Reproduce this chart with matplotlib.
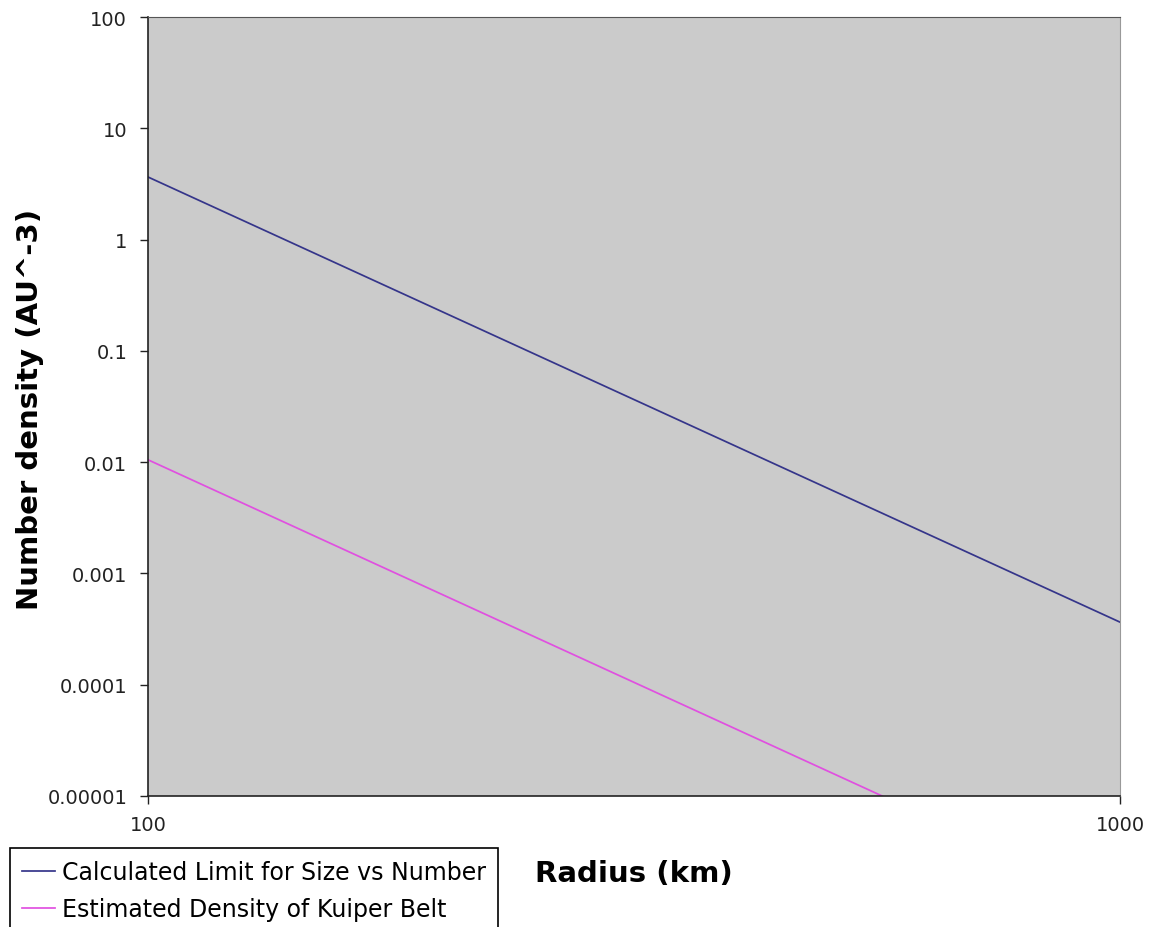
import matplotlib
matplotlib.use("Agg")
import matplotlib.pyplot as plt

# radius (km) vs number density (AU^-3), both power laws with slope -4
radius = [100, 1000]
limit_density = [3.65, 3.65e-4]
kuiper_density = [0.0105, 1.05e-6]

yticks = [1e2, 1e1, 1, 1e-1, 1e-2, 1e-3, 1e-4, 1e-5]
ylabels = ["100", "10", "1", "0.1", "0.01", "0.001", "0.0001", "0.00001"]
xticks = [100, 1000]
xlabels = ["100", "1000"]

W, H = 1151, 928
fig = plt.figure(figsize=(W / 100, H / 100), dpi=100)
ax = fig.add_axes([148 / W, 1 - 797 / H, (1120 - 148) / W, (797 - 18) / H])
ax.set_facecolor("#cbcbcb")

ax.plot(radius, limit_density, color="#35358a", lw=1.25,
        label="Calculated Limit for Size vs Number")
ax.plot(radius, kuiper_density, color="#e050e0", lw=1.25,
        label="Estimated Density of Kuiper Belt")

ax.set_xscale("log")
ax.set_yscale("log")
ax.set_xlim(100, 1000)
ax.set_ylim(1e-5, 100)
ax.minorticks_off()
ax.set_yticks(yticks, ylabels)
ax.set_xticks(xticks, xlabels)
ax.tick_params(axis="y", direction="out", length=6, width=1, pad=9,
               labelsize=14, colors="#222222")
ax.tick_params(axis="x", direction="out", length=6, width=1, pad=8,
               labelsize=14, colors="#222222")

for side in ("left", "bottom"):
    ax.spines[side].set_color("#222222")
    ax.spines[side].set_linewidth(1.2)
ax.spines["top"].set_color("#555555")
ax.spines["right"].set_color("#999999")

ax.set_ylabel("Number density (AU^-3)", fontsize=21, fontweight="bold")
ax.set_xlabel("Radius (km)", fontsize=21, fontweight="bold")
ax.xaxis.set_label_coords(0.5, -0.081)
ax.yaxis.set_label_coords(-0.107, 0.497)

leg = fig.legend(loc="upper left", bbox_to_anchor=(10 / W, 1 - 849 / H),
                 borderaxespad=0, fontsize=17, frameon=True, fancybox=False,
                 edgecolor="black", framealpha=1, handlelength=1.4,
                 handletextpad=0.3, labelspacing=0.55, borderpad=0.5)
leg.get_frame().set_linewidth(1.2)

fig.savefig("out.png", dpi=100)
